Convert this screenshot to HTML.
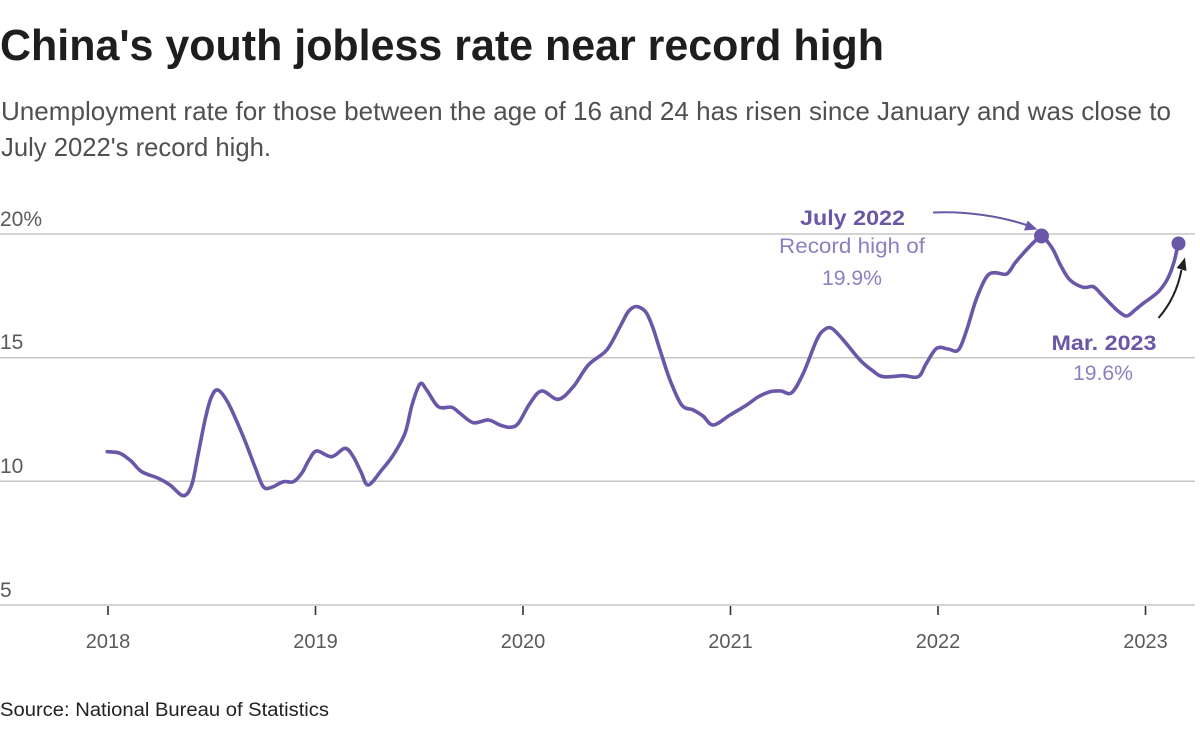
<!DOCTYPE html>
<html>
<head>
<meta charset="utf-8">
<style>
  html,body{margin:0;padding:0;background:#fff;}
  svg{display:block;}
  text{font-family:"Liberation Sans",Arial,sans-serif;}
</style>
</head>
<body>
<svg id="chart" width="1200" height="729" viewBox="0 0 1200 729" xmlns="http://www.w3.org/2000/svg">
  <rect width="1200" height="729" fill="#fff"/>

  <!-- Title -->
  <text x="0" y="60" font-size="44" font-weight="bold" fill="#1e1e1e" textLength="884" lengthAdjust="spacingAndGlyphs">China's youth jobless rate near record high</text>
  <!-- Subtitle -->
  <text x="1" y="120" font-size="26" fill="#505050" textLength="1170" lengthAdjust="spacingAndGlyphs">Unemployment rate for those between the age of 16 and 24 has risen since January and was close to</text>
  <text x="1" y="156" font-size="26" fill="#505050" textLength="270" lengthAdjust="spacingAndGlyphs">July 2022's record high.</text>

  <!-- Gridlines -->
  <g stroke="#c6c6c6" stroke-width="1.5">
    <line x1="0" y1="234" x2="1195" y2="234"/>
    <line x1="0" y1="357.7" x2="1195" y2="357.7"/>
    <line x1="0" y1="481.3" x2="1195" y2="481.3"/>
    <line x1="0" y1="605" x2="1195" y2="605"/>
  </g>

  <!-- Y labels -->
  <g font-size="21" fill="#5a5a5a">
    <text x="0" y="226">20%</text>
    <text x="0" y="349">15</text>
    <text x="0" y="473">10</text>
    <text x="0" y="597">5</text>
  </g>

  <!-- X ticks -->
  <g stroke="#333" stroke-width="1.6">
    <line x1="108" y1="606" x2="108" y2="615"/>
    <line x1="315.5" y1="606" x2="315.5" y2="615"/>
    <line x1="523" y1="606" x2="523" y2="615"/>
    <line x1="730.5" y1="606" x2="730.5" y2="615"/>
    <line x1="938" y1="606" x2="938" y2="615"/>
    <line x1="1145.5" y1="606" x2="1145.5" y2="615"/>
  </g>
  <g font-size="20" fill="#5a5a5a" text-anchor="middle">
    <text x="108" y="648">2018</text>
    <text x="315.5" y="648">2019</text>
    <text x="523" y="648">2020</text>
    <text x="730.5" y="648">2021</text>
    <text x="938" y="648">2022</text>
    <text x="1145.5" y="648">2023</text>
  </g>

  <!-- Series line -->
  <polyline id="ln" fill="none" stroke="#6a57a8" stroke-width="3.6" stroke-linejoin="round" stroke-linecap="round"
    points="107.3,451.7 120,453.3 131,461 141.7,471.7 158.3,478.3 170,485 183.3,495.7 191.7,485 198,455 205,420 211,398 217.7,390 228.3,403.3 243.3,436.7 255,467 263.3,486.7 271.7,487.3 283.3,481.7 293.3,481.7 301.7,473.3 309,460 316.7,451 331.7,456.7 345,448.3 353.3,456.7 361,472 368.3,485 381.7,470 393.3,455 405,433.3 412,405 420,384 426.7,390 438.3,406.7 451.7,407.3 460,413.3 473.3,422.7 488.3,420 500,425 510,427.3 518.3,423.3 530,403.3 541.7,391 558.3,399.3 573.3,386.7 588.3,365 606.7,350 620,326.7 628,312 635,306.7 641,308 646.7,313.3 653,328 660,350 670,380 681.7,405 693.3,410 703,416 713.3,425 730,415 746.7,405 758,397 770,391.7 781,391 791.7,392.7 803.3,373.3 816.7,340 824,330 831.7,328.3 843.3,340 860,360 873,371 883.3,376.7 903.3,375.7 918.3,376.7 926,364 936.7,348.3 948,349 958.3,350 966.7,330 976,300 986.7,276.7 995,272.7 1006.7,274 1015,263 1023.3,253.3 1033,243 1041.7,236 1047,241 1053.3,250 1061,266 1070,280 1083.3,287.3 1093.3,286.7 1102,295 1110,303.3 1118,311 1126.7,316 1135,310 1143.3,303.3 1152,297 1160,290 1168,278 1174,262 1178.3,243.3"/>

  <!-- Dots -->
  <circle cx="1041.5" cy="236" r="7.5" fill="#6a57a8"/>
  <circle cx="1178.5" cy="243.5" r="7" fill="#6a57a8"/>

  <!-- Annotation: July 2022 -->
  <g text-anchor="middle" stroke="#fff" stroke-width="5" paint-order="stroke" stroke-linejoin="round">
    <text x="852.5" y="225" font-size="21" font-weight="bold" fill="#6a57a8" textLength="105" lengthAdjust="spacingAndGlyphs">July 2022</text>
    <text x="852" y="253" font-size="21" fill="#8b80c0" textLength="146" lengthAdjust="spacingAndGlyphs">Record high of</text>
    <text x="852" y="285" font-size="21" fill="#8b80c0" textLength="60" lengthAdjust="spacingAndGlyphs">19.9%</text>
  </g>
  <!-- Purple arrow -->
  <path d="M933,212.5 C965,211 1000,216 1028,225.5" fill="none" stroke="#6a57a8" stroke-width="2"/>
  <polygon points="1037.5,229.5 1024,230.5 1027.6,220.6" fill="#6a57a8"/>

  <!-- Annotation: Mar. 2023 -->
  <g text-anchor="middle" stroke="#fff" stroke-width="5" paint-order="stroke" stroke-linejoin="round">
    <text x="1104" y="350" font-size="21" font-weight="bold" fill="#6a57a8" textLength="105" lengthAdjust="spacingAndGlyphs">Mar. 2023</text>
    <text x="1103" y="380" font-size="21" fill="#8b80c0" textLength="60" lengthAdjust="spacingAndGlyphs">19.6%</text>
  </g>
  <!-- Black arrow -->
  <path d="M1158.5,318 Q1176,298 1181.5,270" fill="none" stroke="#222" stroke-width="2"/>
  <polygon points="1185,257.5 1186.5,271 1176.6,268" fill="#222"/>

  <!-- Source -->
  <text x="0" y="716" font-size="19" fill="#222" textLength="329" lengthAdjust="spacingAndGlyphs">Source: National Bureau of Statistics</text>
</svg>
<script>
(function(){
  var pl = document.getElementById('ln');
  if(!pl) return;
  var pts = pl.getAttribute('points').trim().split(/\s+/).map(function(s){return s.split(',').map(Number);});
  var n = pts.length;
  var d = 'M' + pts[0][0] + ',' + pts[0][1];
  for (var i = 0; i < n - 1; i++) {
    var p0 = pts[i > 0 ? i - 1 : i], p1 = pts[i], p2 = pts[i + 1], p3 = pts[i + 2 < n ? i + 2 : i + 1];
    var c1x = p1[0] + (p2[0] - p0[0]) / 6, c1y = p1[1] + (p2[1] - p0[1]) / 6;
    var c2x = p2[0] - (p3[0] - p1[0]) / 6, c2y = p2[1] - (p3[1] - p1[1]) / 6;
    d += ' C' + c1x.toFixed(2) + ',' + c1y.toFixed(2) + ' ' + c2x.toFixed(2) + ',' + c2y.toFixed(2) + ' ' + p2[0] + ',' + p2[1];
  }
  var path = document.createElementNS('http://www.w3.org/2000/svg', 'path');
  path.setAttribute('d', d);
  path.setAttribute('fill', 'none');
  path.setAttribute('stroke', '#6a57a8');
  path.setAttribute('stroke-width', '3.6');
  path.setAttribute('stroke-linejoin', 'round');
  path.setAttribute('stroke-linecap', 'round');
  pl.parentNode.replaceChild(path, pl);
})();
</script>
</body>
</html>
